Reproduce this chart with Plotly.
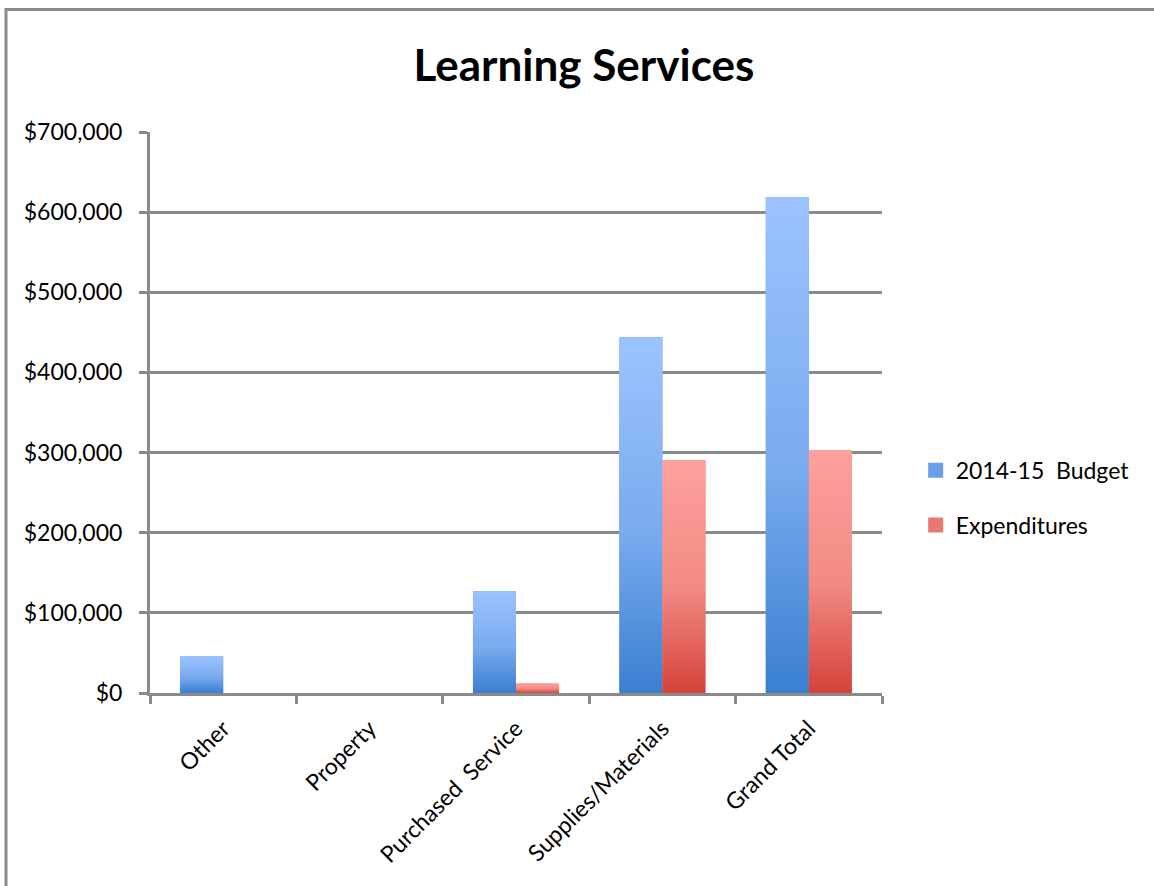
import plotly.graph_objects as go

# Budget vs. spending by account category
categories = ["Other", "Property", "Purchased  Service", "Supplies/Materials", "Grand Total"]
budget_2014_15 = [46000, 0, 127000, 444000, 619000]
expenditures = [0, 0, 12000, 290500, 303000]

y_ticks = [0, 100000, 200000, 300000, 400000, 500000, 600000, 700000]
y_tick_labels = ["$0", "$100,000", "$200,000", "$300,000", "$400,000",
                 "$500,000", "$600,000", "$700,000"]

FONT = "Lato"
GRID = "#8a8a8a"
BAR_W = 0.294

series = [
    ("2014-15  Budget", budget_2014_15, -BAR_W,
     "#6a9fe6", [[0, "#3a7fd0"], [0.45, "#79abef"], [1, "#9cc3ff"]]),
    ("Expenditures", expenditures, 0.0,
     "#ea7872", [[0, "#d5423a"], [0.45, "#f28a84"], [1, "#ffa19c"]]),
]

fig = go.Figure()

for name, vals, off, base, scale in series:
    # base bars
    fig.add_trace(go.Bar(
        x=list(range(len(categories))), y=vals, width=BAR_W, offset=off,
        name=name, legendgroup=name, showlegend=False,
        marker=dict(color=base, line=dict(width=0)), hoverinfo="skip",
    ))
    # gradient overlay: one filled polygon per bar so each gets a full top-to-bottom ramp
    for i, v in enumerate(vals):
        if v <= 0:
            continue
        x0, x1 = i + off, i + off + BAR_W
        fig.add_trace(go.Scatter(
            x=[x0, x1, x1, x0, x0], y=[0, 0, v, v, 0],
            mode="none", fill="toself",
            fillgradient=dict(type="vertical", colorscale=scale),
            showlegend=False, legendgroup=name, hoverinfo="skip",
        ))
    # legend swatch
    fig.add_trace(go.Scatter(
        x=[None], y=[None], mode="markers", name=name, legendgroup=name,
        marker=dict(symbol="square", size=15, color=base, line=dict(width=0)),
    ))

fig.update_layout(
    width=1154, height=886,
    margin=dict(l=150, r=272, t=132, b=193),
    paper_bgcolor="white", plot_bgcolor="white",
    font=dict(family=FONT, size=23, color="black"),
    title=dict(text="<b>Learning Services</b>", x=0.506, xref="container",
               y=1 - 66 / 886, yref="container", xanchor="center", yanchor="middle",
               font=dict(family=FONT, size=44, color="black")),
    barmode="overlay",
    showlegend=True,
    legend=dict(x=1.046, y=0.348, xanchor="left", yanchor="middle",
                font=dict(family=FONT, size=23), tracegroupgap=22,
                itemwidth=30, bgcolor="rgba(0,0,0,0)"),
    xaxis=dict(
        range=[-0.5, len(categories) - 0.5],
        tickmode="array", tickvals=list(range(len(categories))), ticktext=categories,
        tickangle=-45, ticks="outside", ticklen=0, tickwidth=0,
        ticklabelstandoff=10,
        minor=dict(tickmode="array",
                   tickvals=[i - 0.5 for i in range(len(categories) + 1)],
                   ticks="outside", ticklen=8, tickwidth=3, tickcolor=GRID, showgrid=False),
        showgrid=False, zeroline=False,
        showline=True, linecolor=GRID, linewidth=3,
        tickfont=dict(family=FONT, size=23),
    ),
    yaxis=dict(
        range=[0, 700000], tickmode="array", tickvals=y_ticks, ticktext=y_tick_labels,
        showgrid=True, gridcolor=GRID, gridwidth=3,
        zeroline=False, showline=True, linecolor=GRID, linewidth=3,
        ticks="outside", ticklen=8, tickwidth=3, tickcolor=GRID,
        ticklabelstandoff=12,
        tickfont=dict(family=FONT, size=23),
    ),
)

# outer chart frame (runs past the right and bottom edges of the page)
fig.add_shape(type="rect", xref="paper", yref="paper",
              x0=(6 - 150) / 732, x1=(1170 - 150) / 732,
              y0=(693 - 900) / 561, y1=(693 - 9.5) / 561,
              line=dict(color="#8c8c8c", width=3), fillcolor="rgba(0,0,0,0)",
              layer="below")

fig.write_html("out.html")
